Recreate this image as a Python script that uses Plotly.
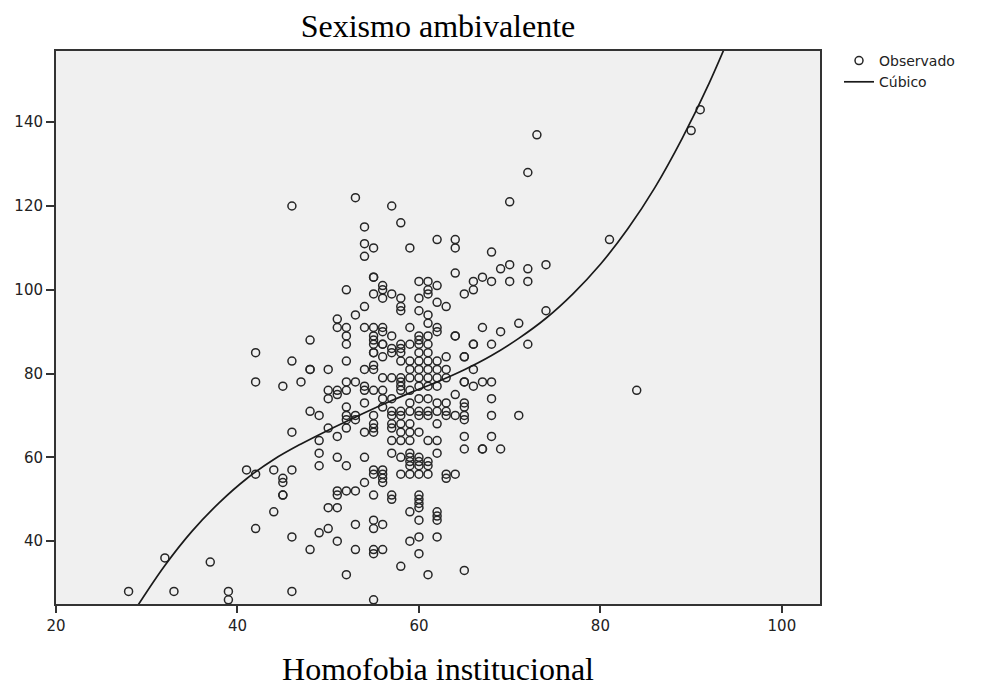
import plotly.graph_objects as go

# Observed points (Homofobia institucional, Sexismo ambivalente)
obs_x = [
    28, 32, 33, 37, 39, 39,
    41, 42, 42, 42, 42,
    44, 44,
    45, 45, 45, 45, 45,
    46, 46, 46, 46, 46, 46,
    47,
    48, 48, 48, 48, 48,
    49, 49, 49, 49, 49,
    50, 50, 50, 50, 50, 50,
    51, 51, 51, 51, 51, 51, 51, 51, 51, 51,
    52, 52, 52, 52, 52, 52, 52, 52, 52, 52, 52, 52, 52, 52,
    53, 53, 53, 53, 53, 53, 53, 53,
    54, 54, 54, 54, 54, 54, 54, 54, 54, 54, 54, 54,
    55, 55, 55, 55, 55, 55, 55, 55, 55, 55, 55, 55, 55, 55, 55, 55,
    55, 57, 60, 61, 64,
    56, 58, 59, 60, 61, 66,
    58, 58,
    55, 57, 60, 61,
    63, 65,
    56, 58, 59,
    60, 61, 62,
    55, 59, 60, 61, 62, 63,
    56, 57, 58, 59, 60, 61, 62, 63,
    65, 58, 58,
    58, 60, 61, 62,
    55, 56, 59,
    64,
    56, 57, 60, 61,
    59, 62, 63, 65,
    56,
    57, 58, 59, 60, 61, 62, 63,
    55, 60, 64, 65,
    57, 58, 61, 63,
    55, 57, 58, 59, 62,
    55, 57, 58, 59, 60,
    57, 58, 59, 61, 62,
    57, 59, 62,
    58, 59, 60,
    59, 60, 61,
    59, 60, 61,
    55, 56,
    56, 58, 59, 60, 61, 63, 64,
    63,
    56,
    57,
    60, 60, 60,
    56, 57, 59, 59, 60, 60, 60, 60, 61, 62, 62, 62, 62, 56, 56, 58, 65,
    64, 64, 64, 64,
    65, 65, 65, 65, 65, 65, 65,
    66, 66, 66, 66, 66,
    67, 67, 67, 67, 67,
    68, 68, 68, 68, 68, 68, 68,
    69, 69, 69,
    70, 70, 70,
    71, 71,
    72, 72, 72, 72,
    73,
    74, 74,
    81, 84, 90, 91,
    56, 56, 56, 57, 57, 58, 58, 58, 58, 59, 59, 60, 60, 60, 60,
    61, 61, 61, 61, 61, 62, 62, 62, 62, 62, 63,
    56, 56, 57, 56, 55,
]
obs_y = [
    28, 36, 28, 35, 28, 26,
    57, 56, 43, 85, 78,
    57, 47,
    77, 55, 54, 51, 51,
    120, 83, 66, 57, 41, 28,
    78,
    88, 81, 81, 71, 38,
    70, 64, 61, 58, 42,
    81, 76, 74, 67, 48, 43,
    93, 91, 76, 75, 65, 60, 52, 51, 48, 40,
    100, 91, 89, 87, 83, 78, 76, 72, 70, 69, 67, 58, 52, 32,
    122, 94, 78, 69, 70, 52, 44, 38,
    115, 111, 108, 96, 91, 81, 76, 73, 66, 60, 54, 77,
    110, 103, 103, 99, 91, 88, 85, 82, 67, 56, 51, 45, 43, 38, 37, 26,
    89, 89, 89, 89, 89,
    87, 87, 87, 87, 87, 87,
    86, 85,
    85, 85, 85, 85,
    84, 84,
    84, 83, 83,
    83, 83, 83,
    81, 81, 81, 81, 81, 81,
    79, 79, 79, 79, 79, 79, 79, 79,
    78, 78, 76,
    77, 77, 77, 77,
    76, 76, 76,
    75,
    74, 74, 74, 74,
    73, 73, 73, 73,
    72,
    71, 71, 71, 71, 71, 71, 71,
    70, 70, 70, 70,
    70, 70, 70, 70,
    68, 68, 68, 68, 68,
    66, 67, 66, 66, 66,
    64, 64, 64, 64, 64,
    61, 61, 61,
    60, 60, 60,
    59, 59, 59,
    58, 58, 58,
    57, 57,
    56, 56, 56, 56, 56, 56, 56,
    55,
    54,
    51,
    51, 50, 49,
    55, 50, 47, 40, 48, 45, 41, 37, 32, 47, 46, 45, 41, 44, 38, 34, 33,
    112, 110, 104, 89,
    99, 84, 78, 72, 69, 65, 62,
    102, 100, 87, 81, 77,
    103, 91, 78, 62, 62,
    109, 102, 87, 78, 74, 70, 65,
    105, 90, 62,
    121, 106, 102,
    92, 70,
    128, 105, 102, 87,
    137,
    106, 95,
    112, 76, 138, 143,
    101, 100, 98, 99, 120, 116, 98, 96, 95, 110, 91, 102, 98, 95, 88,
    102, 100, 99, 94, 92, 112, 101, 97, 91, 90, 96,
    91, 90, 86, 87, 87,
]

# Cubic fit curve
fit_x = [29, 32, 35, 38, 41, 44, 47, 50, 53, 56, 59, 62, 65, 68, 71, 74, 77, 80, 83, 86, 89, 92, 95]
fit_y = [24.6, 34.2, 42.4, 49.2, 54.9, 59.5, 63.2, 66.5, 69.6, 72.6, 75.4, 78.0, 80.9, 84.3,
         88.4, 93.2, 99.1, 106.1, 114.5, 124.4, 136.1, 149.4, 164.5]

x_ticks = [20, 40, 60, 80, 100]
y_ticks = [40, 60, 80, 100, 120, 140]

fig = go.Figure()
fig.add_trace(go.Scatter(
    x=obs_x, y=obs_y, mode="markers", name="Observado",
    marker=dict(symbol="circle-open", size=8, color="#262626", line=dict(width=1.5, color="#262626")),
))
fig.add_trace(go.Scatter(
    x=fit_x, y=fit_y, mode="lines", name="Cúbico",
    line=dict(color="#1a1a1a", width=1.7, shape="spline"),
))

axis_font = dict(family="DejaVu Sans", size=15, color="#222")
fig.update_layout(
    width=982, height=691,
    margin=dict(l=48, r=170, t=43, b=95),
    paper_bgcolor="white",
    plot_bgcolor="#F0F0F0",
    title=dict(text="Sexismo ambivalente", x=0.5, xref="paper", y=1 - 18 / 691, yref="container",
               xanchor="center", yanchor="middle",
               font=dict(family="Liberation Serif", size=32, color="black")),
    showlegend=True,
    legend=dict(x=831 / 982, y=1 - 37 / 691, xref="container", yref="container",
                xanchor="left", yanchor="top", bgcolor="rgba(0,0,0,0)",
                font=dict(family="DejaVu Sans", size=14, color="#222"),
                itemwidth=30, tracegroupgap=0),
    xaxis=dict(range=[20, 104.2], tickvals=x_ticks, ticks="outside", ticklen=7, tickwidth=2,
               tickcolor="#333", showgrid=False, zeroline=False, showline=True, linecolor="#333",
               linewidth=2, mirror=True, tickfont=axis_font, automargin=False,
               title=dict(text="Homofobia institucional", standoff=24,
                          font=dict(family="Liberation Serif", size=32, color="black"))),
    yaxis=dict(range=[25, 157], tickvals=y_ticks, ticks="outside", ticklen=8, tickwidth=2,
               tickcolor="#333", showgrid=False, zeroline=False, showline=True, linecolor="#333",
               linewidth=2, mirror=True, tickfont=axis_font, automargin=False),
)

fig.write_html("out.html")
